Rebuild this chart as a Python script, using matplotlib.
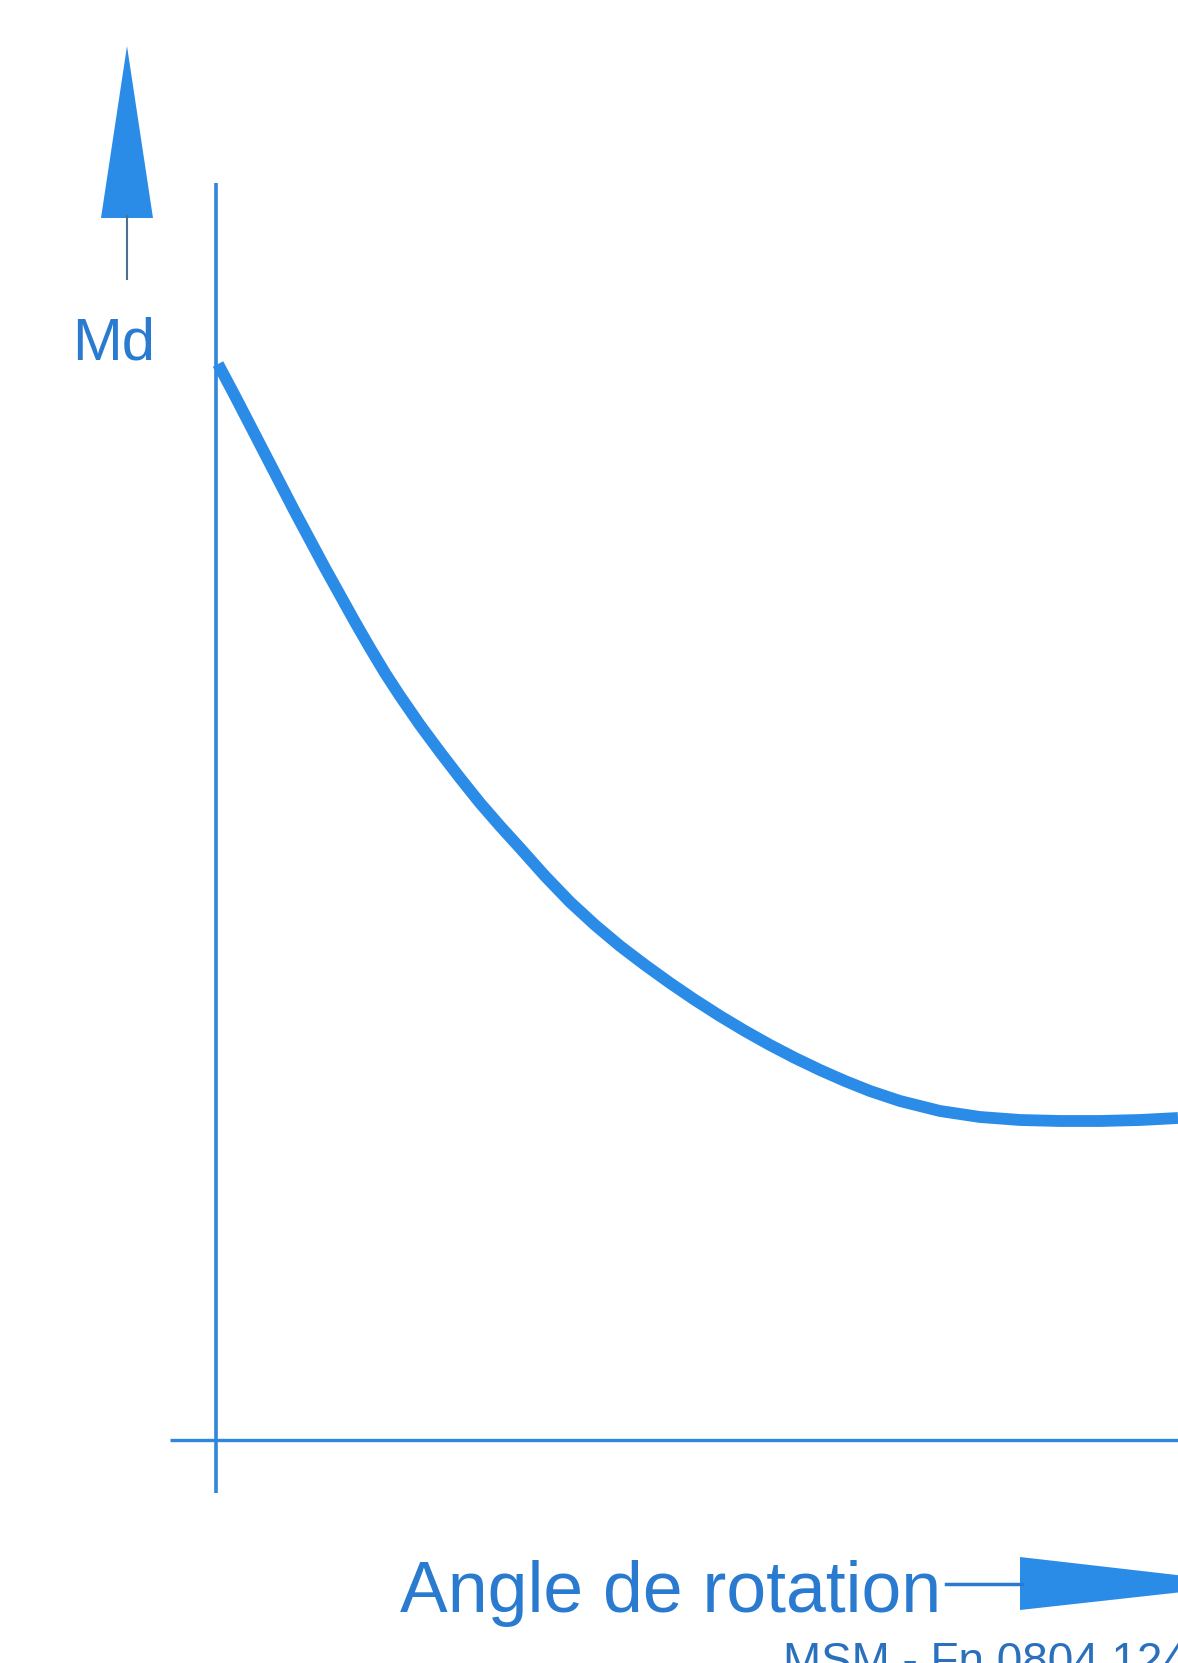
import matplotlib
matplotlib.use("Agg")
import matplotlib.pyplot as plt
from matplotlib.patches import Polygon

# curve: angle (arbitrary units) and Md (arbitrary units)
angle = [0.2, 1.9, 3.4, 4.9, 6.4, 7.9, 9.4, 10.9, 12.4, 13.9, 15.4, 16.9,
         18.4, 20.4, 22.4, 24.4, 26.4, 28.4, 30.4, 32.9, 35.4, 37.9, 40.4,
         42.9, 45.4, 47.9, 50.4, 52.9, 55.4, 57.9, 60.4, 62.9, 65.4, 68.4,
         72.4, 76.4, 80.4, 84.4, 88.4, 92.4, 96.2]
md = [107.6, 104.4, 101.5, 98.6, 95.7, 92.8, 90.0, 87.2, 84.5, 81.8, 79.2,
      76.7, 74.4, 71.5, 68.8, 66.2, 63.7, 61.4, 59.2, 56.4, 53.8, 51.5,
      49.4, 47.5, 45.7, 44.0, 42.4, 40.9, 39.5, 38.2, 37.0, 35.9, 34.9,
      33.9, 32.9, 32.3, 32.0, 31.9, 31.9, 32.0, 32.2]

W, H = 1178, 1663
LINE = "#2b8ce8"
AXIS = "#2f86dc"
TEXT = "#2a7bd0"

fig = plt.figure(figsize=(W / 100, H / 100), dpi=100)
fig.patch.set_facecolor("white")
ax = fig.add_axes([0, 0, 1, 1])
# one data unit = 10 px, origin where the two axis lines cross
ax.set_xlim(-21.6, 96.2)
ax.set_ylim(-22.3, 144.0)
ax.axis("off")

# axis lines
ax.plot([0, 0], [125.7, -5.3], color=AXIS, lw=2.6, solid_capstyle="butt")
ax.plot([-4.6, 96.2], [0, 0], color=AXIS, lw=2.4, solid_capstyle="butt")

# torque curve
ax.plot(angle, md, color=LINE, lw=8.5, solid_capstyle="butt",
        solid_joinstyle="round")


def fx(x):
    return x / W


def fy(y):
    return 1 - y / H


def tri(pts, color):
    fig.add_artist(Polygon([(fx(x), fy(y)) for x, y in pts], closed=True,
                           transform=fig.transFigure, facecolor=color,
                           edgecolor="none"))


# Md arrow (vertical)
fig.add_artist(plt.Line2D([fx(127), fx(127)], [fy(216), fy(279)],
                          transform=fig.transFigure, color="#4d6f92", lw=1.5))
tri([(101, 218), (153, 218), (127, 46)], LINE)

# angle arrow (horizontal)
fig.add_artist(plt.Line2D([fx(946), fx(1022)], [fy(1584), fy(1584)],
                          transform=fig.transFigure, color=TEXT, lw=2.5))
tri([(1020, 1557), (1020, 1610), (1255, 1584)], LINE)

# labels
fig.text(fx(72), fy(360), "Md", family="Liberation Sans", fontsize=43,
         color=TEXT, va="baseline", ha="left")
fig.text(fx(400), fy(1612), "Angle de rotation", family="Liberation Sans",
         fontsize=51.5, color=TEXT, va="baseline", ha="left")
fig.text(fx(783), fy(1675), "MSM - Fn 0804 1244", family="Liberation Sans",
         fontsize=33, color="#2a70bc", va="baseline", ha="left")

fig.savefig("out.png", dpi=100)
